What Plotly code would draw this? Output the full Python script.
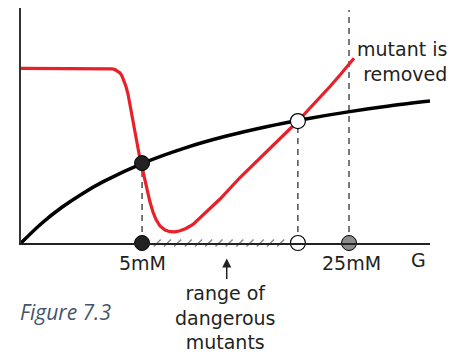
import plotly.graph_objects as go

# Abstract units: x 0..100 along G axis, y 0..100 up the vertical axis
black_x = [0, 5, 10, 15, 20, 30, 40, 50, 60, 70, 80, 90, 100]
black_y = [0, 8.3, 15.2, 21.0, 26.0, 34.1, 40.4, 45.4, 49.5, 52.9, 55.8, 58.3, 60.4]

red_x = [0, 19.32, 21.27, 22.25, 22.98, 23.72, 24.21, 24.69, 25.18, 25.67, 26.16, 26.65,
         27.14, 27.63, 28.12, 28.61, 29.10, 29.58, 30.07, 30.56, 31.05, 31.54, 32.27, 33.01,
         33.99, 35.21, 36.43, 37.65, 38.88, 40.34, 42.05, 43.77, 46.21, 48.66, 53.55, 58.44,
         63.33, 67.73, 70.66, 73.11, 75.55, 78.00, 81.42]
red_y = [74.34, 74.34, 74.30, 74.13, 73.79, 73.11, 72.34, 71.06, 69.15, 66.60, 63.40, 58.72,
         54.47, 49.79, 44.68, 39.57, 35.74, 32.34, 28.51, 24.68, 20.85, 17.45, 13.19, 10.00,
         7.23, 5.53, 4.81, 4.77, 5.19, 6.17, 7.87, 10.64, 14.47, 18.72, 27.87, 36.17,
         44.26, 51.91, 57.45, 61.91, 66.60, 71.49, 78.60]

dot_x = [29.6, 29.6]
dot_y = [34.0, 0]
open_x = [67.7, 67.7]
open_y = [51.9, 0]
gray_x = [80.2]
gray_y = [0]

drop_x = [29.6, 67.7, 80.2]
drop_top = [34.0, 51.9, 99.1]

hatch_x = [33.3, 35.8, 38.3, 40.9, 43.4, 45.9, 48.4, 50.9, 53.5, 56.0, 58.5, 61.0, 63.5]

tick_labels = ["5mM", "25mM"]
tick_pos = [29.8, 80.7]

FONT = "DejaVu Sans"
FS = 19

fig = go.Figure()

for xv, top in zip(drop_x, drop_top):
    fig.add_trace(go.Scatter(x=[xv, xv], y=[0, top], mode="lines",
                             line=dict(color="#222222", width=1.2, dash="6px,5px"),
                             hoverinfo="skip", showlegend=False, cliponaxis=False))

fig.add_trace(go.Scatter(x=hatch_x, y=[0] * len(hatch_x), mode="markers",
                         marker=dict(symbol="line-ne", size=7,
                                     line=dict(color="#8a8a8a", width=1.5)),
                         showlegend=False, cliponaxis=False))

fig.add_trace(go.Scatter(x=black_x, y=black_y, mode="lines",
                         line=dict(color="black", width=3.5, shape="spline", smoothing=0.8),
                         showlegend=False, cliponaxis=False))
fig.add_trace(go.Scatter(x=red_x, y=red_y, mode="lines",
                         line=dict(color="#e8202a", width=3.2),
                         showlegend=False, cliponaxis=False))

fig.add_trace(go.Scatter(x=dot_x, y=dot_y, mode="markers",
                         marker=dict(size=15, color="#222222", line=dict(color="black", width=1)),
                         showlegend=False, cliponaxis=False))
fig.add_trace(go.Scatter(x=open_x, y=open_y, mode="markers",
                         marker=dict(size=15, color="white", line=dict(color="black", width=1.2)),
                         showlegend=False, cliponaxis=False))
fig.add_trace(go.Scatter(x=gray_x, y=gray_y, mode="markers",
                         marker=dict(size=15, color="#8c8c8c", line=dict(color="black", width=1)),
                         showlegend=False, cliponaxis=False))

txt = dict(family=FONT, size=FS, color="#231f20")


def P(v):
    return v / 100.0


for lab, xp in zip(tick_labels, tick_pos):
    fig.add_annotation(x=P(xp), y=P(-8.3), xref="paper", yref="paper", text=lab,
                       showarrow=False, font=txt, xanchor="center", yanchor="middle")
fig.add_annotation(x=P(97.3), y=P(-7.2), xref="paper", yref="paper", text="G",
                   showarrow=False, font=txt, xanchor="center", yanchor="middle")
fig.add_annotation(x=P(104.6), y=P(77.3), xref="paper", yref="paper",
                   text="mutant is<br>removed", showarrow=False, font=txt,
                   xanchor="right", yanchor="middle", align="right")
fig.add_annotation(x=P(49.9), y=P(-31.5), xref="paper", yref="paper",
                   text="range of<br>dangerous<br>mutants", showarrow=False,
                   font=txt, xanchor="center", yanchor="middle", align="center")
fig.add_annotation(x=P(50.3), y=P(-6.6), xref="paper", yref="paper", text="",
                   showarrow=True, ax=0, ay=22,
                   arrowhead=2, arrowsize=1.2, arrowwidth=1.5, arrowcolor="#222222")
fig.add_annotation(x=P(-0.73), y=P(-29.4), xref="paper", yref="paper",
                   text="<i>Figure 7.3</i>", showarrow=False,
                   font=dict(family="Open Sans", size=21, color="#44546a"),
                   xanchor="left", yanchor="middle")

fig.update_layout(
    width=459, height=356,
    margin=dict(l=21, r=29, t=8, b=113),
    paper_bgcolor="white", plot_bgcolor="white",
    xaxis=dict(range=[0, 100], showgrid=False, zeroline=False, showticklabels=False,
               ticks="", showline=True, linecolor="#222222", linewidth=1.5, fixedrange=True),
    yaxis=dict(range=[0, 100], showgrid=False, zeroline=False, showticklabels=False,
               ticks="", showline=True, linecolor="#333333", linewidth=1.5, fixedrange=True),
)

fig.write_html("out.html", config={"displayModeBar": False},
               post_script="document.body.style.margin='0px';")
